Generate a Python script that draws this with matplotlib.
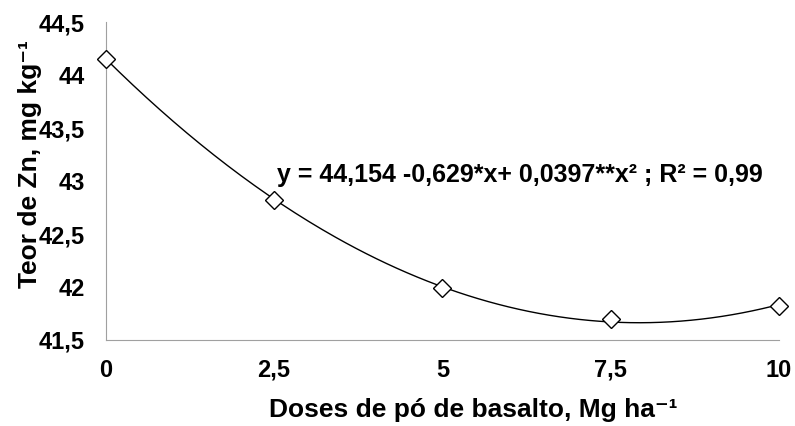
import matplotlib.pyplot as plt
import numpy as np

# doses de pó de basalto (Mg/ha) e teor de Zn (mg/kg)
doses = [0, 2.5, 5, 7.5, 10]
teor_zn = [44.15, 42.82, 41.99, 41.70, 41.82]

# coeficientes da regressão quadrática
b0, b1, b2 = 44.154, -0.629, 0.0397

xticks = [0, 2.5, 5, 7.5, 10]
yticks = [41.5, 42, 42.5, 43, 43.5, 44, 44.5]

plt.rcParams['font.family'] = ['Liberation Sans', 'DejaVu Sans']
plt.rcParams['font.weight'] = 'bold'

fig = plt.figure(figsize=(7.95, 4.26), dpi=100)
ax = fig.add_axes([0.133, 0.202, 0.847, 0.746])

xs = np.linspace(0, 10, 200)
ax.plot(xs, b0 + b1 * xs + b2 * xs ** 2, color='black', linewidth=1, clip_on=False)
ax.plot(doses, teor_zn, linestyle='none', marker='D', markersize=9,
        markerfacecolor='white', markeredgecolor='black', markeredgewidth=1,
        clip_on=False, zorder=3)

ax.set_xlim(0, 10)
ax.set_ylim(41.5, 44.5)
ax.set_xticks(xticks)
ax.set_yticks(yticks)
ax.set_xticklabels([str(v).replace('.', ',') for v in xticks], fontsize=17, fontweight='bold')
ax.set_yticklabels([('%g' % v).replace('.', ',') for v in yticks], fontsize=17, fontweight='bold')
ax.tick_params(axis='x', length=0, pad=13.5)
ax.tick_params(axis='y', length=0, pad=15)

for side in ['top', 'right']:
    ax.spines[side].set_visible(False)
for side in ['left', 'bottom']:
    ax.spines[side].set_color('#a0a0a0')

ax.set_xlabel('Doses de pó de basalto, Mg ha⁻¹', fontsize=19, fontweight='bold')
ax.xaxis.label.set_verticalalignment('baseline')
ax.xaxis.set_label_coords(0.546, -0.242)

ax.set_ylabel('Teor de Zn, mg kg⁻¹', fontsize=19, fontweight='bold')
ax.yaxis.label.set_horizontalalignment('left')
ax.yaxis.set_label_coords(-0.094, 0.164)

ax.text(2.55, 42.99, 'y = 44,154 -0,629*x+ 0,0397**x² ; R² = 0,99',
        fontsize=18, fontweight='bold', ha='left', va='baseline')

fig.savefig('out.png', dpi=100)
